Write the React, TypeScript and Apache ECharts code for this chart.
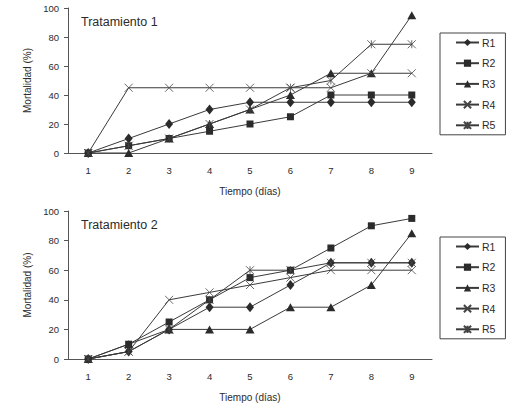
import { useEffect, useRef } from 'react'
import * as echarts from 'echarts'

const days = ['1', '2', '3', '4', '5', '6', '7', '8', '9']
const names = ['R1', 'R2', 'R3', 'R4', 'R5']

// Tratamiento 1
const t1R1 = [0, 10, 20, 30, 35, 35, 35, 35, 35]
const t1R2 = [0, 5, 10, 15, 20, 25, 40, 40, 40]
const t1R3 = [0, 0, 10, 20, 30, 40, 55, 55, 95]
const t1R4 = [0, 45, 45, 45, 45, 45, 45, 55, 55]
const t1R5 = [0, 5, 10, 20, 30, 45, 50, 75, 75]

// Tratamiento 2
const t2R1 = [0, 5, 20, 35, 35, 50, 65, 65, 65]
const t2R2 = [0, 10, 25, 40, 55, 60, 75, 90, 95]
const t2R3 = [0, 10, 20, 20, 20, 35, 35, 50, 85]
const t2R4 = [0, 5, 40, 45, 50, 55, 60, 60, 60]
const t2R5 = [0, 5, 20, 40, 60, 60, 65, 65, 65]

const INK = '#2b2b2b'
const FONT = 'Liberation Sans'

const symbols: { symbol: string; size: number | number[]; open: boolean }[] = [
  { symbol: 'diamond', size: [8, 10], open: false },
  { symbol: 'rect', size: 7, open: false },
  { symbol: 'triangle', size: [9, 8], open: false },
  { symbol: 'path://M0,0L10,10M10,0L0,10', size: 8, open: true },
  { symbol: 'path://M0,0L10,10M10,0L0,10M5,0L5,10', size: 8, open: true },
]

function makeSeries(data: number[][], idx: number) {
  return data.map((d, i) => ({
    type: 'line',
    name: names[i],
    data: d,
    xAxisIndex: idx,
    yAxisIndex: idx,
    symbol: symbols[i].symbol,
    symbolSize: symbols[i].size,
    showAllSymbol: true,
    lineStyle: { color: '#3a3a3a', width: 1 },
    itemStyle: symbols[i].open
      ? { color: '#444', borderColor: '#444', borderWidth: 0.8 }
      : { color: INK, borderWidth: 0 },
    emphasis: { disabled: true },
  }))
}

function xAxis(idx: number) {
  return {
    type: 'category',
    gridIndex: idx,
    data: days,
    boundaryGap: true,
    name: 'Tiempo (días)',
    nameLocation: 'middle',
    nameGap: 33,
    nameTextStyle: { fontSize: 10, color: INK, fontFamily: FONT },
    axisLine: { lineStyle: { color: '#555', width: 1 } },
    axisTick: { length: 4, lineStyle: { color: '#555' } },
    axisLabel: { fontSize: 9.5, color: INK, margin: 12, fontFamily: FONT },
  }
}

function yAxis(idx: number) {
  return {
    type: 'value',
    gridIndex: idx,
    min: 0,
    max: 100,
    interval: 20,
    name: 'Mortalidad (%)',
    nameLocation: 'middle',
    nameGap: 31,
    nameTextStyle: { fontSize: 10, color: INK, fontFamily: FONT },
    axisLine: { show: true, lineStyle: { color: '#555', width: 1 } },
    axisTick: { show: true, length: 4, lineStyle: { color: '#555' } },
    axisLabel: { fontSize: 9.5, color: INK, margin: 9, fontFamily: FONT },
    splitLine: { show: false },
  }
}

function legend(top: number) {
  return {
    orient: 'vertical',
    left: 440,
    top,
    data: names,
    itemWidth: 23,
    itemHeight: 9,
    itemGap: 9.7,
    padding: [4, 10, 4, 15],
    borderColor: '#444',
    borderWidth: 1,
    selectedMode: false,
    textStyle: { fontSize: 10.5, color: INK, fontFamily: FONT, padding: [0, 0, 0, -2] },
  }
}

export default function App() {
  const ref = useRef<HTMLDivElement>(null)

  useEffect(() => {
    if (!ref.current) return
    const chart = echarts.init(ref.current, undefined, { renderer: 'svg' })
    chart.setOption({
      animation: false,
      backgroundColor: '#fff',
      textStyle: { fontFamily: FONT },
      title: [
        { text: 'Tratamiento 1', left: 81, top: 15, padding: 0, textStyle: { fontSize: 12.5, fontWeight: 'normal', color: INK, fontFamily: FONT } },
        { text: 'Tratamiento 2', left: 81, top: 218, padding: 0, textStyle: { fontSize: 12.5, fontWeight: 'normal', color: INK, fontFamily: FONT } },
      ],
      legend: [legend(33), legend(237)],
      grid: [
        { left: 68, top: 8, width: 364, height: 145 },
        { left: 68, top: 211, width: 364, height: 148 },
      ],
      xAxis: [xAxis(0), xAxis(1)],
      yAxis: [yAxis(0), yAxis(1)],
      series: [
        ...makeSeries([t1R1, t1R2, t1R3, t1R4, t1R5], 0),
        ...makeSeries([t2R1, t2R2, t2R3, t2R4, t2R5], 1),
      ],
    })
    return () => chart.dispose()
  }, [])

  return <div ref={ref} style={{ position: 'absolute', left: 0, top: 0, width: 528, height: 414 }} />
}
